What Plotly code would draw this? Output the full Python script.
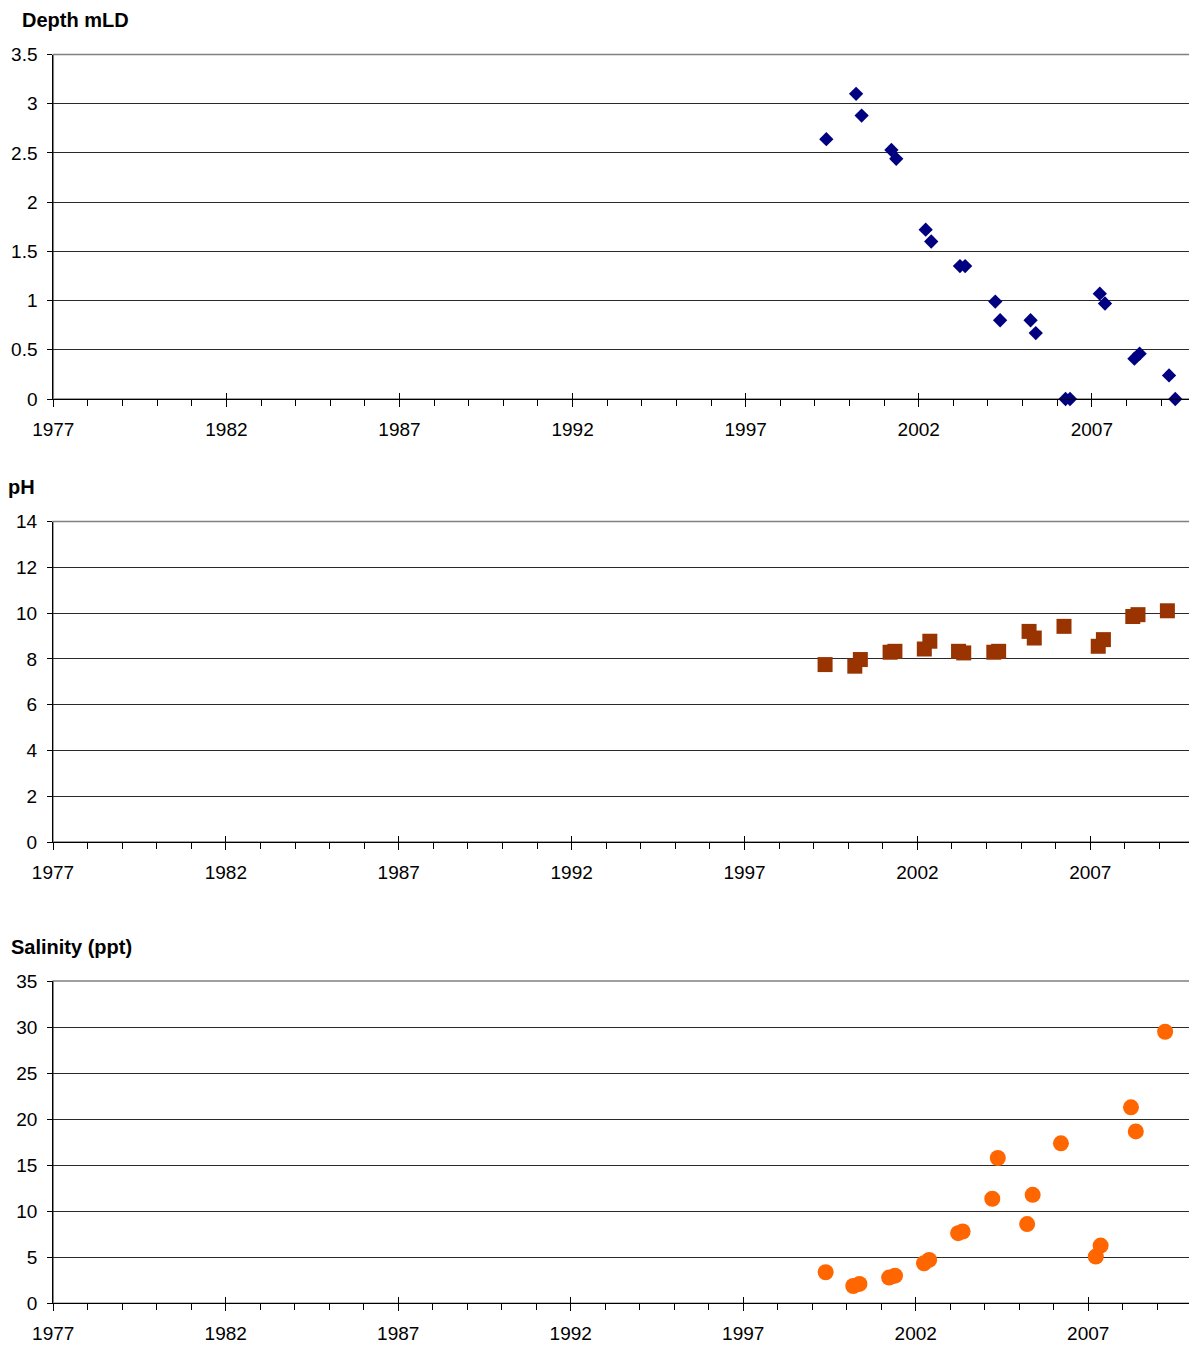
import plotly.graph_objects as go

# ---------------- data ----------------
depth_years = [1999.33, 2000.19, 2000.35, 2001.21, 2001.35, 2002.20, 2002.36, 2003.19, 2003.34,
               2004.21, 2004.35, 2005.23, 2005.38, 2006.24, 2006.37, 2007.23, 2007.38,
               2008.23, 2008.38, 2009.23, 2009.41]
depth_values = [2.64, 3.10, 2.88, 2.53, 2.44, 1.72, 1.60, 1.35, 1.35,
                0.99, 0.80, 0.80, 0.67, 0.0, 0.0, 1.07, 0.97,
                0.41, 0.46, 0.24, 0.0]

ph_years = [1999.33, 2000.19, 2000.35, 2001.21, 2001.35, 2002.20, 2002.36, 2003.19, 2003.34,
            2004.21, 2004.35, 2005.23, 2005.38, 2006.24, 2007.23, 2007.38,
            2008.23, 2008.38, 2009.23]
ph_values = [7.75, 7.68, 7.97, 8.29, 8.33, 8.43, 8.77, 8.33, 8.26,
             8.29, 8.33, 9.20, 8.91, 9.42, 8.55, 8.84,
             9.85, 9.93, 10.10]

sal_years = [1999.39, 2000.19, 2000.37, 2001.23, 2001.40, 2002.24, 2002.39, 2003.23, 2003.36,
             2004.22, 2004.38, 2005.23, 2005.39, 2006.21, 2007.22, 2007.36,
             2008.24, 2008.38, 2009.23]
sal_values = [3.37, 1.88, 2.10, 2.79, 3.00, 4.35, 4.71, 7.62, 7.80,
              11.35, 15.78, 8.60, 11.78, 17.37, 5.07, 6.27,
              21.28, 18.67, 29.49]

panel_titles = ["Depth mLD", "pH", "Salinity (ppt)"]
x_range = [1977, 2010]

# ---------------- layout helpers ----------------
# The page body has an 8px margin, so the figure is drawn 8px in from the
# window's top-left corner; all reference pixel positions are shifted by it.
OFF = 8
W, H = 1197 - OFF, 1349 - OFF
FONT = "Liberation Sans, Arial, sans-serif"

def px_x(p):
    return (p - OFF) / W

def px_y(p):
    return 1 - (p - OFF) / H

panels = [
    dict(x=(53.3, 1195.7), y=(54.5, 399.0), yr=[0, 3.5], dy=0.5),
    dict(x=(53.0, 1194.0), y=(521.5, 842.0), yr=[0, 14], dy=2),
    dict(x=(53.2, 1191.7), y=(981.0, 1303.3), yr=[0, 35], dy=5),
]
title_pos = [(21, 20), (7, 487), (10, 947)]

fig = go.Figure()

series = [
    (depth_years, depth_values, dict(symbol="diamond", size=11, color="#000080")),
    (ph_years, ph_values, dict(symbol="square", size=15, color="#993300")),
    (sal_years, sal_values, dict(symbol="circle", size=16, color="#FF6600")),
]

layout = dict(
    width=W, height=H,
    margin=dict(l=0, r=0, t=0, b=0, autoexpand=False),
    paper_bgcolor="white", plot_bgcolor="white",
    showlegend=False,
    font=dict(family=FONT, size=19, color="black"),
)
shapes = []
annotations = []

for i, (p, (xs, ys, mk)) in enumerate(zip(panels, series)):
    n = i + 1
    xa = f"xaxis{n if n > 1 else ''}"
    ya = f"yaxis{n if n > 1 else ''}"
    xref = f"x{n if n > 1 else ''}"
    yref = f"y{n if n > 1 else ''}"
    ov = n + 3  # overlay axis for crossing major ticks

    fig.add_trace(go.Scatter(
        x=xs, y=ys, mode="markers", xaxis=xref, yaxis=yref,
        marker=dict(symbol=mk["symbol"], size=mk["size"], color=mk["color"],
                    line=dict(width=0)),
        cliponaxis=False, hoverinfo="x+y"))
    fig.add_trace(go.Scatter(x=[None], y=[None], mode="markers",
                             xaxis=f"x{ov}", yaxis=yref, showlegend=False,
                             hoverinfo="skip"))

    layout[xa] = dict(
        domain=[px_x(p["x"][0]), px_x(p["x"][1])], anchor=yref,
        range=x_range, tick0=1977, dtick=5, automargin=False,
        showgrid=False, zeroline=False,
        showline=True, linecolor="black", linewidth=1,
        ticks="outside", ticklen=7, tickwidth=1, tickcolor="black",
        minor=dict(tick0=1977, dtick=1, ticks="outside", ticklen=6,
                   tickwidth=1, tickcolor="black", showgrid=False),
        tickfont=dict(family=FONT, size=19, color="black"),
        ticklabelstandoff=6,
    )
    layout[f"xaxis{ov}"] = dict(
        overlaying=xref, anchor=yref, range=x_range, tick0=1977, dtick=5,
        automargin=False,
        showgrid=False, zeroline=False, showline=False,
        ticks="inside", ticklen=6, tickwidth=1, tickcolor="black",
        showticklabels=False,
    )
    layout[ya] = dict(
        domain=[px_y(p["y"][1]), px_y(p["y"][0])], anchor=xref,
        range=p["yr"], tick0=0, dtick=p["dy"], automargin=False,
        showgrid=True, gridcolor="#2a2a2a", gridwidth=1,
        zeroline=False,
        showline=True, linecolor="black", linewidth=1,
        ticks="outside", ticklen=5, tickwidth=1, tickcolor="black",
        tickfont=dict(family=FONT, size=19, color="black"),
        ticklabelstandoff=6,
    )
    shapes.append(dict(type="rect", xref=f"{xref} domain", yref=f"{yref} domain",
                       x0=0, x1=1, y0=0, y1=1, line=dict(color="#808080", width=1.5),
                       layer="below"))
    tx, ty = title_pos[i]
    annotations.append(dict(text=f"<b>{panel_titles[i]}</b>", xref="paper", yref="paper",
                            x=px_x(tx), y=px_y(ty), xanchor="left", yanchor="middle",
                            borderpad=0,
                            showarrow=False, font=dict(family=FONT, size=20, color="black")))

layout["shapes"] = shapes
layout["annotations"] = annotations
fig.update_layout(**layout)

fig.write_html("out.html")
